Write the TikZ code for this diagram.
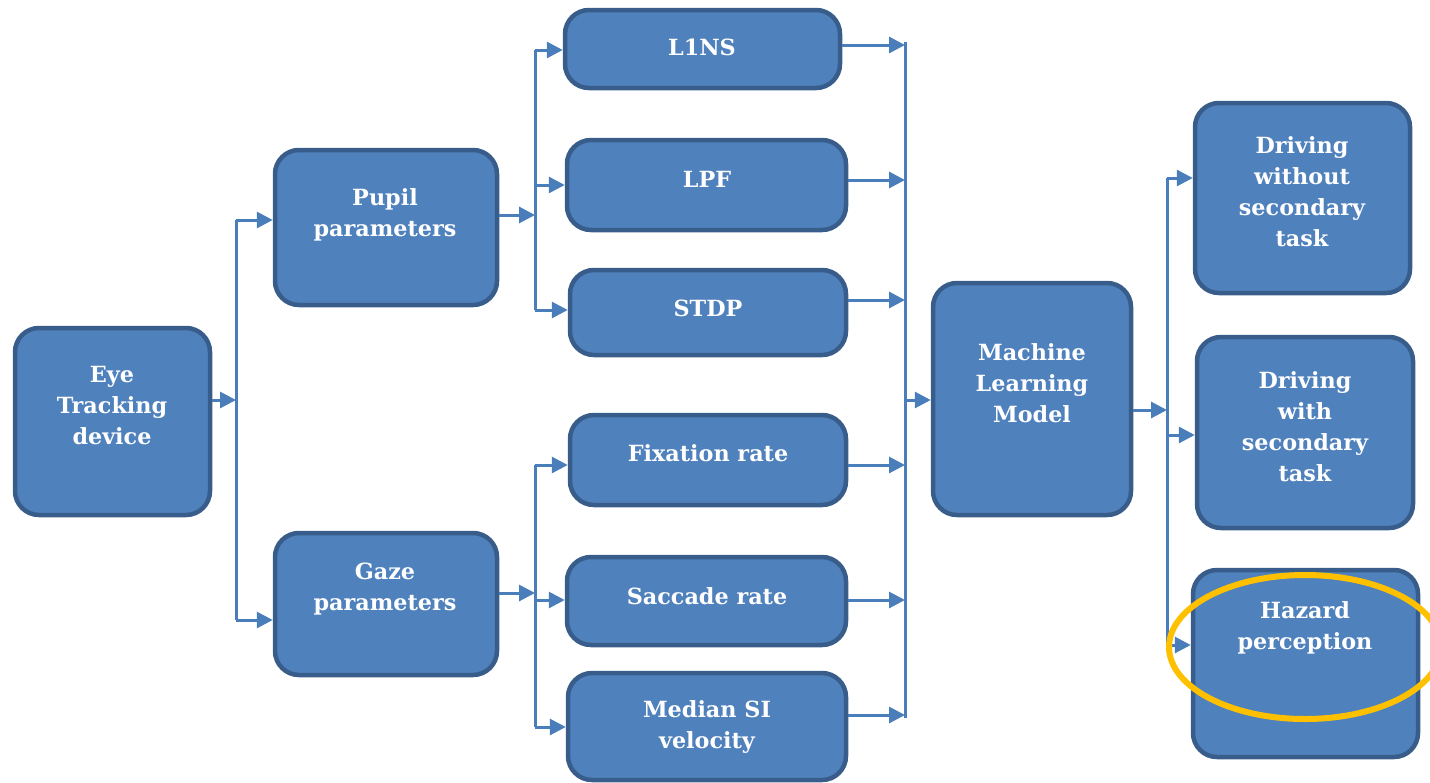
\documentclass[tikz,border=0pt]{standalone}
\usepackage{fontspec}
\setmainfont{DejaVu Serif}
\usetikzlibrary{arrows.meta}
\definecolor{boxfill}{HTML}{4F81BD}
\definecolor{boxdraw}{HTML}{385D8A}
\definecolor{linec}{HTML}{4A7EBB}
\definecolor{hl}{HTML}{FFC000}
\newcommand{\bx}[5]{%
  \pgfmathsetmacro{\bw}{#4-#2}\pgfmathsetmacro{\bh}{#5-#3}%
  \pgfmathsetmacro{\cx}{(#2+#4)/2}\pgfmathsetmacro{\cy}{(#3+#5)/2}%
  \node[box, minimum width=\bw pt, minimum height=\bh pt] (#1) at (\cx,\cy) {};}
\tikzset{
  box/.style={draw=boxdraw, fill=boxfill, line width=4.5pt, rounded corners=24pt, inner sep=0pt},
  lbl/.style={text=white, font=\fontsize{22.3}{31}\selectfont\bfseries, align=center, inner sep=0pt},
  conn/.style={draw=linec, line width=3pt},
  arr/.style={conn, -{Triangle[length=16pt,width=16pt]}},
  hilite/.style={draw=hl, line width=6pt}
}
\begin{document}
\begin{tikzpicture}[x=1pt,y=-1pt]
\useasboundingbox (0,0) rectangle (1430,782);
% boxes
\bx{eye}{15}{328}{210}{515}
\bx{pupil}{275}{150}{497}{305}
\bx{gaze}{275}{533}{497}{675}
\bx{lins}{565}{10}{840}{88}
\bx{lpf}{567}{140}{846}{230}
\bx{stdp}{570}{270}{846}{355}
\bx{fix}{570}{415}{846}{505}
\bx{sac}{567}{557}{846}{645}
\bx{med}{568}{673}{846}{780}
\bx{ml}{933}{283}{1131}{515}
\bx{dwo}{1195}{103}{1410}{293}
\bx{dw}{1197}{337}{1413}{528}
\bx{haz}{1193}{570}{1418}{757}
% labels
\node[lbl] (eyeT) at (112,406) {Eye\\Tracking\\device};
\node[lbl] (pupilT) at (385,215) {Pupil\\parameters};
\node[lbl] (gazeT) at (385,589) {Gaze\\parameters};
\node[lbl] (linsT) at (702,47) {L1NS};
\node[lbl] (lpfT) at (707,179) {LPF};
\node[lbl] (stdpT) at (708,308) {STDP};
\node[lbl] (fixT) at (708,453) {Fixation rate};
\node[lbl] (sacT) at (707,596) {Saccade rate};
\node[lbl] (medT) at (707,727) {Median SI\\velocity};
\node[lbl] (mlT) at (1032,383) {Machine\\Learning\\Model};
\node[lbl] (dwoT) at (1302,192) {Driving\\without\\secondary\\task};
\node[lbl] (dwT) at (1305,427) {Driving\\with\\secondary\\task};
\node[lbl] (hazT) at (1305,628) {Hazard\\perception};
% junction coordinates
\coordinate (a1) at (236,400);
\coordinate (a1t) at (236,220);
\coordinate (a1b) at (236,620);
\coordinate (b1) at (535,215);
\coordinate (b1t) at (535,50);
\coordinate (b1m) at (535,185);
\coordinate (b1b) at (535,310);
\coordinate (b2) at (535,593);
\coordinate (b2t) at (535,465);
\coordinate (b2m) at (535,600);
\coordinate (b2b) at (535,727);
\coordinate (c1t) at (905,42);
\coordinate (c1b) at (905,718);
\coordinate (c1m) at (905,400);
\coordinate (d1) at (1167,410);
\coordinate (d1t) at (1167,178);
\coordinate (d1m) at (1167,435);
\coordinate (d1b) at (1167,645);
% eye -> pupil/gaze
\draw[arr] (eye.east |- a1) -- (a1);
\draw[conn] (a1t) -- (a1b);
\draw[arr] (a1t) -- (a1t -| pupil.west);
\draw[arr] (a1b) -- (a1b -| gaze.west);
% pupil -> features
\draw[arr] (pupil.east |- b1) -- (b1);
\draw[conn] (b1t) -- (b1b);
\draw[arr] (b1t) -- (b1t -| lins.west);
\draw[arr] (b1m) -- (b1m -| lpf.west);
\draw[arr] (b1b) -- (b1b -| stdp.west);
% gaze -> features
\draw[arr] (gaze.east |- b2) -- (b2);
\draw[conn] (b2t) -- (b2b);
\draw[arr] (b2t) -- (b2t -| fix.west);
\draw[arr] (b2m) -- (b2m -| sac.west);
\draw[arr] (b2b) -- (b2b -| med.west);
% features -> collector
\draw[conn] (c1t) -- (c1b);
\draw[arr] (lins.east |- 0,45) -- (905,45);
\draw[arr] (lpf.east |- 0,180) -- (905,180);
\draw[arr] (stdp.east |- 0,300) -- (905,300);
\draw[arr] (fix.east |- 0,465) -- (905,465);
\draw[arr] (sac.east |- 0,600) -- (905,600);
\draw[arr] (med.east |- 0,715) -- (905,715);
\draw[arr] (c1m) -- (c1m -| ml.west);
% ml -> outcomes
\draw[arr] (ml.east |- d1) -- (d1);
\draw[conn] (d1t) -- (d1b);
\draw[arr] (d1t) -- (d1t -| dwo.west);
\draw[arr] (d1m) -- (d1m -| dw.west);
\draw[arr] (d1b) -- (d1b -| haz.west);
% highlight
\draw[hilite] (1305,647) ellipse [x radius=136, y radius=72];
\end{tikzpicture}
\end{document}
